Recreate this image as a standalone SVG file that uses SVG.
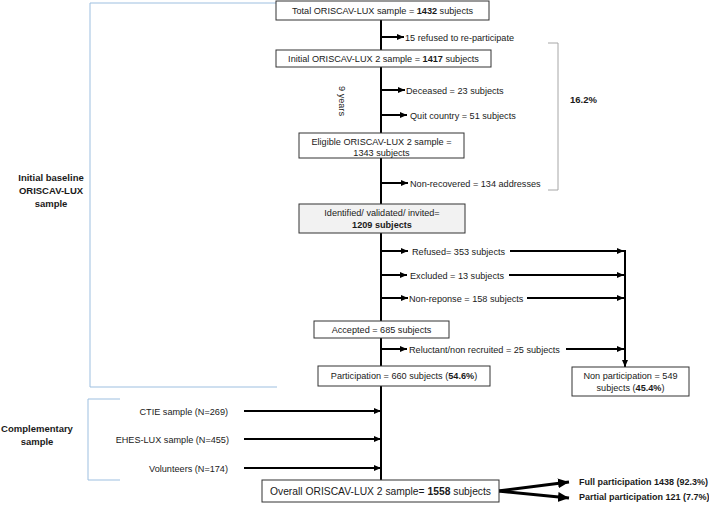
<svg xmlns="http://www.w3.org/2000/svg" width="709" height="511" viewBox="0 0 709 511">
<style>
text{font-family:"Liberation Sans",Arial,sans-serif;font-size:9.15px;fill:#1a1a1a}
.b{font-weight:bold}
.lb{font-size:9.5px;font-weight:bold}
.box{fill:#fff;stroke:#333;stroke-width:1}
.grey{fill:#f2f2f2}
.ln{stroke:#000;stroke-width:2;fill:none}
.ar{stroke:#000;stroke-width:2;fill:none;marker-end:url(#ah)}
.ar3{stroke:#000;stroke-width:3;fill:none;marker-end:url(#ahb)}
.brk{stroke:#9dbfe0;stroke-width:1;fill:none}
.gbrk{stroke:#a6a6a6;stroke-width:1;fill:none}
.m{text-anchor:middle}
.e{text-anchor:end}
</style>
<defs>
<marker id="ah" markerUnits="userSpaceOnUse" markerWidth="8" markerHeight="8" refX="7" refY="4" orient="auto"><path d="M0,1 L7,4 L0,7 Z" fill="#000"/></marker>
<marker id="ahb" markerUnits="userSpaceOnUse" markerWidth="12" markerHeight="12" refX="11" refY="6" orient="auto"><path d="M0,1 L11,6 L0,11 Z" fill="#000"/></marker>
</defs>

<g id="brackets">
<path class="brk" d="M276,3 H90 V387 H277"/>
<path class="brk" d="M120,399 H88 V480 H120"/>
<path class="gbrk" d="M548,43 H558 V190 H548"/>
</g>

<g id="connectors">
<line class="ln" x1="381" y1="20" x2="381" y2="480"/>
<line class="ar" x1="381" y1="37" x2="404" y2="37"/>
<line class="ar" x1="381" y1="90" x2="405" y2="90"/>
<line class="ar" x1="381" y1="115" x2="407" y2="115"/>
<line class="ar" x1="381" y1="183" x2="408" y2="183"/>
<line class="ar" x1="381" y1="251" x2="408" y2="251"/>
<line class="ar" x1="381" y1="275" x2="407" y2="275"/>
<line class="ar" x1="381" y1="298" x2="408" y2="298"/>
<line class="ar" x1="381" y1="349" x2="407" y2="349"/>
<line class="ar" x1="510" y1="251" x2="624" y2="251"/>
<line class="ar" x1="509" y1="275" x2="624" y2="275"/>
<line class="ar" x1="527" y1="298" x2="624" y2="298"/>
<line class="ar" x1="566" y1="349" x2="624" y2="349"/>
<line class="ar" x1="625" y1="250" x2="625" y2="367"/>
<line class="ar" x1="244" y1="411" x2="381" y2="411"/>
<line class="ar" x1="244" y1="439" x2="381" y2="439"/>
<line class="ar" x1="244" y1="468" x2="381" y2="468"/>
<line class="ar3" x1="498" y1="491" x2="569" y2="482"/>
<line class="ar3" x1="498" y1="491" x2="569" y2="498"/>
</g>

<g id="total">
<rect class="box" x="276" y="1" width="213" height="19"/>
<text class="m" x="382.5" y="14">Total ORISCAV-LUX sample = <tspan class="b">1432</tspan> subjects</text>
</g>
<g id="refused15"><text x="405" y="40.5">15 refused to re-participate</text></g>

<g id="initial">
<rect class="box" x="276" y="50" width="215" height="17"/>
<text class="m" x="383.5" y="62">Initial ORISCAV-LUX 2 sample = <tspan class="b">1417</tspan> subjects</text>
</g>
<g id="nine"><text class="m" transform="translate(339,101) rotate(90)">9 years</text></g>
<g id="deceased"><text x="406" y="93.5">Deceased = 23 subjects</text></g>
<g id="quit"><text x="410" y="118.5">Quit country = 51 subjects</text></g>

<g id="eligible">
<rect class="box" x="299" y="133" width="165" height="25"/>
<text class="m" x="381.5" y="145">Eligible ORISCAV-LUX 2 sample =</text>
<text class="m" x="381.5" y="156">1343 subjects</text>
</g>
<g id="nonrecovered"><text x="410" y="186.5">Non-recovered  = 134 addresses</text></g>
<g id="pct"><text class="lb" x="570" y="103">16.2%</text></g>

<g id="identified">
<rect class="box grey" x="299" y="204" width="166" height="29"/>
<text class="m" x="382" y="216">Identified/ validated/ invited=</text>
<text class="m b" x="382" y="227.5">1209 subjects</text>
</g>
<g id="refused"><text x="412" y="254.5">Refused= 353 subjects</text></g>
<g id="excluded"><text x="410" y="278.5">Excluded  = 13 subjects</text></g>
<g id="nonreponse"><text x="409" y="301.5">Non-reponse = 158 subjects</text></g>

<g id="accepted">
<rect class="box" x="314" y="321" width="135" height="17"/>
<text class="m" x="381.5" y="333">Accepted = 685 subjects</text>
</g>
<g id="reluctant"><text x="409" y="352.5">Reluctant/non recruited = 25 subjects</text></g>

<g id="participation">
<rect class="box" x="318" y="366" width="172" height="20"/>
<text class="m" x="404" y="379">Participation = 660 subjects (<tspan class="b">54.6%</tspan>)</text>
</g>
<g id="nonparticipation">
<rect class="box" x="572" y="367" width="117" height="29"/>
<text class="m" x="630.5" y="379">Non participation = 549</text>
<text class="m" x="630.5" y="391">subjects (<tspan class="b">45.4%</tspan>)</text>
</g>

<g id="baseline">
<text class="m lb" x="51" y="181">Initial baseline</text>
<text class="m lb" x="51" y="194">ORISCAV-LUX</text>
<text class="m lb" x="51" y="207">sample</text>
</g>
<g id="complementary">
<text class="m lb" x="37" y="432">Complementary</text>
<text class="m lb" x="37" y="445">sample</text>
</g>
<g id="ctie"><text class="e" x="228" y="414.5">CTIE sample (N=269)</text></g>
<g id="ehes"><text class="e" x="229" y="442.5">EHES-LUX sample (N=455)</text></g>
<g id="volunteers"><text class="e" x="228" y="471.5">Volunteers (N=174)</text></g>

<g id="overall">
<rect class="box" x="262" y="480" width="237" height="22"/>
<text class="m" x="380.5" y="495" style="font-size:10.3px">Overall ORISCAV-LUX 2 sample= <tspan class="b">1558</tspan> subjects</text>
</g>
<g id="full"><text class="b" x="579" y="485" style="font-size:9px">Full participation 1438 (92.3%)</text></g>
<g id="partial"><text class="b" x="579" y="500" style="font-size:9px">Partial participation 121 (7.7%)</text></g>
</svg>
